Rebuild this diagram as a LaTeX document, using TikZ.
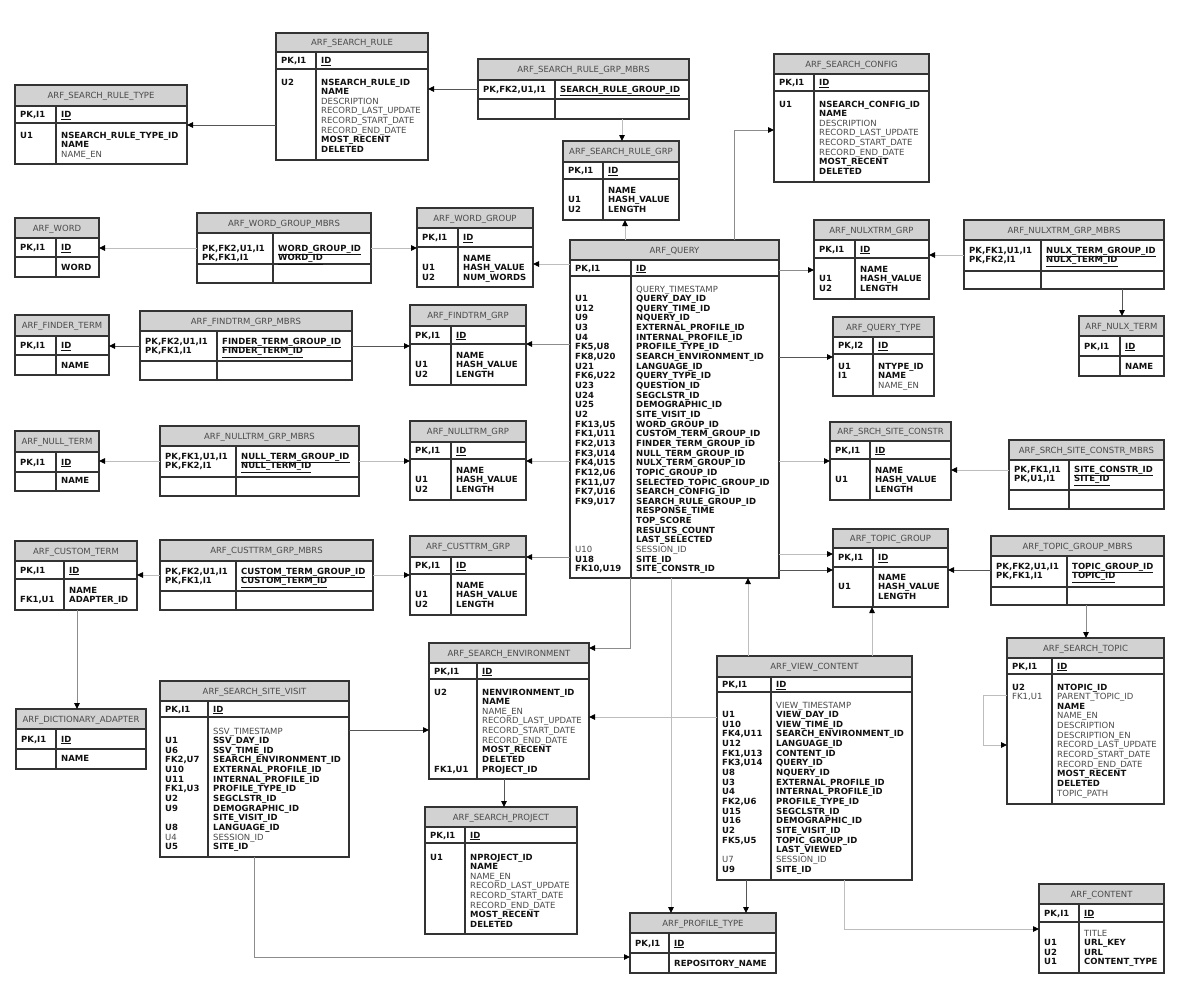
\documentclass[tikz,border=0pt]{standalone}
\usepackage{fontspec}
\setmainfont{DejaVu Sans}
\usetikzlibrary{arrows.meta}
\definecolor{tabc}{HTML}{333333}
\definecolor{headc}{HTML}{D2D2D2}
\definecolor{regc}{HTML}{4A4A4A}
\definecolor{boldc}{HTML}{111111}
\definecolor{darkline}{HTML}{555555}
\definecolor{midline}{HTML}{8C8C8C}
\definecolor{lightline}{HTML}{BDBDBD}
\newcommand\ft{\fontsize{8.5}{9.65}\selectfont}
\newcommand\Fb[1]{{\bfseries\color{boldc}#1}}
\newcommand\Fr[1]{{\color{regc}#1}}
\newcommand\Fu[1]{{\bfseries\color{boldc}\underline{#1}}}
\newcommand\Ee{}
\tikzset{
  tabbox/.style={draw=tabc, line width=1.1pt, inner sep=0pt, outer sep=0pt, rectangle},
  tabline/.style={draw=tabc, line width=1.1pt},
  pkline/.style={draw=tabc, line width=1.6pt},
  headtext/.style={font=\ft, text=regc, inner sep=0pt},
  celltext/.style={font=\ft, inner sep=0pt},
  conn/.style={line width=0.9pt, -{Triangle[length=6pt,width=5.5pt,color=black]}},
  darkconn/.style={conn, draw=darkline},
  midconn/.style={conn, draw=midline},
  lightconn/.style={conn, draw=lightline}
}
% #1 name #2 x1 #3 y1 #4 x2 #5 y2 #6 header bottom #7 divider x #8 title
\newcommand{\ertab}[8]{%
  \fill[headc] (#2,#3) rectangle (#4,#6);
  \node[tabbox, anchor=north west, minimum width={(#4-#2)*1pt}, minimum height={(#5-#3)*1pt}] (#1) at (#2,#3) {};
  \draw[tabline] (#2,#6) -- (#4,#6);
  \draw[tabline] (#7,#6) -- (#7,#5);
  \node[headtext, anchor=base] (#1-title) at ({(#2+#4)/2},{(#3+#6)/2+3}) {#8};
}
% members table: #7 mid line y, #8 divider, #9 title
\newcommand{\mbrs}[9]{%
  \ertab{#1}{#2}{#3}{#4}{#5}{#6}{#8}{#9}%
  \draw[tabline] (#2,#7) -- (#4,#7);
}
% #1 name #2 x1 #3 x2 #4 div #5 hb #6 pb #7 key
\newcommand{\pkrow}[7]{%
  \draw[pkline] (#2,#6) -- (#3,#6);
  \node[celltext, anchor=base west] (#1-pk) at ({#2+5},{(#5+#6)/2+3}) {\Fb{#7}};
  \node[celltext, anchor=base west] (#1-id) at ({#4+5},{(#5+#6)/2+3}) {\Fu{ID}};
}
% #1 prefix #2 x #3 first baseline #4 list
\newcommand{\col}[4]{%
  \foreach \cellx [count=\i] in {#4} {
    \node[celltext, anchor=base west] (#1-\i) at (#2,{#3+(\i-1)*9.65}) {\cellx};
  }
}
\begin{document}
\begin{tikzpicture}[x=1pt,y=-1pt]
\fill[white] (0,0) rectangle (1202,1004);
\useasboundingbox (0,0) rectangle (1202,1004);

% ---------- tables ----------
\ertab{srt}{15}{85}{187}{164}{106}{56}{ARF\_SEARCH\_RULE\_TYPE}
\pkrow{srt}{15}{187}{56}{106}{123}{PK,I1}
\col{srtk}{20}{138}{\Fb{U1}}
\col{srtf}{61}{138}{\Fb{NSEARCH\_RULE\_TYPE\_ID},\Fb{NAME},\Fr{NAME\_EN}}

\ertab{sr}{276}{33}{428}{160}{52}{316}{ARF\_SEARCH\_RULE}
\pkrow{sr}{276}{428}{316}{52}{69}{PK,I1}
\col{srk}{281}{85}{\Fb{U2}}
\col{srf}{321}{85}{\Fb{NSEARCH\_RULE\_ID},\Fb{NAME},\Fr{DESCRIPTION},\Fr{RECORD\_LAST\_UPDATE},\Fr{RECORD\_START\_DATE},\Fr{RECORD\_END\_DATE},\Fb{MOST\_RECENT},\Fb{DELETED}}

\mbrs{srgm}{478}{59}{689}{119}{80}{99}{555}{ARF\_SEARCH\_RULE\_GRP\_MBRS}
\col{srgmk}{483}{92}{\Fb{PK,FK2,U1,I1}}
\col{srgmf}{560}{92}{\Fu{SEARCH\_RULE\_GROUP\_ID}}

\ertab{srg}{563}{141}{679}{220}{162}{603}{ARF\_SEARCH\_RULE\_GRP}
\pkrow{srg}{563}{679}{603}{162}{179}{PK,I1}
\col{srgk}{568}{193}{\Ee,\Fb{U1},\Fb{U2}}
\col{srgf}{608}{193}{\Fb{NAME},\Fb{HASH\_VALUE},\Fb{LENGTH}}

\ertab{sc}{774}{54}{929}{182}{74}{814}{ARF\_SEARCH\_CONFIG}
\pkrow{sc}{774}{929}{814}{74}{91}{PK,I1}
\col{sck}{779}{107}{\Fb{U1}}
\col{scf}{819}{107}{\Fb{NSEARCH\_CONFIG\_ID},\Fb{NAME},\Fr{DESCRIPTION},\Fr{RECORD\_LAST\_UPDATE},\Fr{RECORD\_START\_DATE},\Fr{RECORD\_END\_DATE},\Fb{MOST\_RECENT},\Fb{DELETED}}

\ertab{word}{15}{218}{99}{277}{238}{56}{ARF\_WORD}
\pkrow{word}{15}{99}{56}{238}{257}{PK,I1}
\col{wordf}{61}{270}{\Fb{WORD}}

\mbrs{wgm}{197}{213}{371}{283}{233}{264}{273}{ARF\_WORD\_GROUP\_MBRS}
\col{wgmk}{202}{251}{\Fb{PK,FK2,U1,I1},\Fb{PK,FK1,I1}}
\col{wgmf}{278}{251}{\Fu{WORD\_GROUP\_ID},\Fu{WORD\_ID}}

\ertab{wg}{417}{208}{533}{287}{228}{458}{ARF\_WORD\_GROUP}
\pkrow{wg}{417}{533}{458}{228}{247}{PK,I1}
\col{wgk}{422}{261}{\Ee,\Fb{U1},\Fb{U2}}
\col{wgf}{463}{261}{\Fb{NAME},\Fb{HASH\_VALUE},\Fb{NUM\_WORDS}}

\ertab{query}{570}{240}{779}{578}{260}{631}{ARF\_QUERY}
\pkrow{query}{570}{779}{631}{260}{276}{PK,I1}
\col{queryk}{575}{292}{\Ee,\Fb{U1},\Fb{U12},\Fb{U9},\Fb{U3},\Fb{U4},\Fb{FK5,U8},\Fb{FK8,U20},\Fb{U21},\Fb{FK6,U22},\Fb{U23},\Fb{U24},\Fb{U25},\Fb{U2},\Fb{FK13,U5},\Fb{FK1,U11},\Fb{FK2,U13},\Fb{FK3,U14},\Fb{FK4,U15},\Fb{FK12,U6},\Fb{FK11,U7},\Fb{FK7,U16},\Fb{FK9,U17},\Ee,\Ee,\Ee,\Ee,\Fr{U10},\Fb{U18},\Fb{FK10,U19}}
\col{queryf}{636}{292}{\Fr{QUERY\_TIMESTAMP},\Fb{QUERY\_DAY\_ID},\Fb{QUERY\_TIME\_ID},\Fb{NQUERY\_ID},\Fb{EXTERNAL\_PROFILE\_ID},\Fb{INTERNAL\_PROFILE\_ID},\Fb{PROFILE\_TYPE\_ID},\Fb{SEARCH\_ENVIRONMENT\_ID},\Fb{LANGUAGE\_ID},\Fb{QUERY\_TYPE\_ID},\Fb{QUESTION\_ID},\Fb{SEGCLSTR\_ID},\Fb{DEMOGRAPHIC\_ID},\Fb{SITE\_VISIT\_ID},\Fb{WORD\_GROUP\_ID},\Fb{CUSTOM\_TERM\_GROUP\_ID},\Fb{FINDER\_TERM\_GROUP\_ID},\Fb{NULL\_TERM\_GROUP\_ID},\Fb{NULX\_TERM\_GROUP\_ID},\Fb{TOPIC\_GROUP\_ID},\Fb{SELECTED\_TOPIC\_GROUP\_ID},\Fb{SEARCH\_CONFIG\_ID},\Fb{SEARCH\_RULE\_GROUP\_ID},\Fb{RESPONSE\_TIME},\Fb{TOP\_SCORE},\Fb{RESULTS\_COUNT},\Fb{LAST\_SELECTED},\Fr{SESSION\_ID},\Fb{SITE\_ID},\Fb{SITE\_CONSTR\_ID}}

\ertab{nxg}{814}{220}{929}{299}{240}{855}{ARF\_NULXTRM\_GRP}
\pkrow{nxg}{814}{929}{855}{240}{258}{PK,I1}
\col{nxgk}{819}{272}{\Ee,\Fb{U1},\Fb{U2}}
\col{nxgf}{860}{272}{\Fb{NAME},\Fb{HASH\_VALUE},\Fb{LENGTH}}

\mbrs{nxgm}{964}{220}{1164}{289}{240}{271}{1041}{ARF\_NULXTRM\_GRP\_MBRS}
\col{nxgmk}{969}{253}{\Fb{PK,FK1,U1,I1},\Fb{PK,FK2,I1}}
\col{nxgmf}{1046}{253}{\Fu{NULX\_TERM\_GROUP\_ID},\Fu{NULX\_TERM\_ID}}

\ertab{nxt}{1079}{316}{1164}{376}{336}{1120}{ARF\_NULX\_TERM}
\pkrow{nxt}{1079}{1164}{1120}{336}{356}{PK,I1}
\col{nxtf}{1125}{369}{\Fb{NAME}}

\ertab{qt}{833}{317}{934}{396}{337}{873}{ARF\_QUERY\_TYPE}
\pkrow{qt}{833}{934}{873}{337}{354}{PK,I2}
\col{qtk}{838}{369}{\Fb{U1},\Fb{I1}}
\col{qtf}{878}{369}{\Fb{NTYPE\_ID},\Fb{NAME},\Fr{NAME\_EN}}

\ertab{ssc}{830}{422}{951}{500}{441}{870}{ARF\_SRCH\_SITE\_CONSTR}
\pkrow{ssc}{830}{951}{870}{441}{459}{PK,I1}
\col{ssck}{835}{473}{\Ee,\Fb{U1}}
\col{sscf}{875}{473}{\Fb{NAME},\Fb{HASH\_VALUE},\Fb{LENGTH}}

\mbrs{sscm}{1009}{440}{1164}{509}{460}{490}{1069}{ARF\_SRCH\_SITE\_CONSTR\_MBRS}
\col{sscmk}{1014}{472}{\Fb{PK,FK1,I1},\Fb{PK,U1,I1}}
\col{sscmf}{1074}{472}{\Fu{SITE\_CONSTR\_ID},\Fu{SITE\_ID}}

\ertab{tg}{833}{529}{948}{607}{548}{873}{ARF\_TOPIC\_GROUP}
\pkrow{tg}{833}{948}{873}{548}{567}{PK,I1}
\col{tgk}{838}{580}{\Ee,\Fb{U1}}
\col{tgf}{878}{580}{\Fb{NAME},\Fb{HASH\_VALUE},\Fb{LENGTH}}

\mbrs{tgm}{991}{536}{1164}{605}{556}{587}{1067}{ARF\_TOPIC\_GROUP\_MBRS}
\col{tgmk}{996}{569}{\Fb{PK,FK2,U1,I1},\Fb{PK,FK1,I1}}
\col{tgmf}{1072}{569}{\Fu{TOPIC\_GROUP\_ID},\Fu{TOPIC\_ID}}

\ertab{ft}{15}{315}{109}{375}{336}{56}{ARF\_FINDER\_TERM}
\pkrow{ft}{15}{109}{56}{336}{355}{PK,I1}
\col{ftf}{61}{368}{\Fb{NAME}}

\mbrs{ftgm}{140}{311}{352}{380}{331}{361}{217}{ARF\_FINDTRM\_GRP\_MBRS}
\col{ftgmk}{145}{344}{\Fb{PK,FK2,U1,I1},\Fb{PK,FK1,I1}}
\col{ftgmf}{222}{344}{\Fu{FINDER\_TERM\_GROUP\_ID},\Fu{FINDER\_TERM\_ID}}

\ertab{ftg}{410}{305}{526}{385}{326}{451}{ARF\_FINDTRM\_GRP}
\pkrow{ftg}{410}{526}{451}{326}{344}{PK,I1}
\col{ftgk}{415}{358}{\Ee,\Fb{U1},\Fb{U2}}
\col{ftgf}{456}{358}{\Fb{NAME},\Fb{HASH\_VALUE},\Fb{LENGTH}}

\ertab{nt}{15}{431}{99}{491}{452}{56}{ARF\_NULL\_TERM}
\pkrow{nt}{15}{99}{56}{452}{472}{PK,I1}
\col{ntf}{61}{483}{\Fb{NAME}}

\mbrs{ntgm}{160}{426}{359}{496}{446}{477}{236}{ARF\_NULLTRM\_GRP\_MBRS}
\col{ntgmk}{165}{459}{\Fb{PK,FK1,U1,I1},\Fb{PK,FK2,I1}}
\col{ntgmf}{241}{459}{\Fu{NULL\_TERM\_GROUP\_ID},\Fu{NULL\_TERM\_ID}}

\ertab{ntg}{410}{421}{526}{500}{442}{451}{ARF\_NULLTRM\_GRP}
\pkrow{ntg}{410}{526}{451}{442}{459}{PK,I1}
\col{ntgk}{415}{473}{\Ee,\Fb{U1},\Fb{U2}}
\col{ntgf}{456}{473}{\Fb{NAME},\Fb{HASH\_VALUE},\Fb{LENGTH}}

\ertab{ct}{15}{541}{137}{610}{561}{64}{ARF\_CUSTOM\_TERM}
\pkrow{ct}{15}{137}{64}{561}{579}{PK,I1}
\col{ctk}{20}{593}{\Ee,\Fb{FK1,U1}}
\col{ctf}{69}{593}{\Fb{NAME},\Fb{ADAPTER\_ID}}

\mbrs{ctgm}{160}{540}{373}{610}{561}{591}{236}{ARF\_CUSTTRM\_GRP\_MBRS}
\col{ctgmk}{165}{574}{\Fb{PK,FK2,U1,I1},\Fb{PK,FK1,I1}}
\col{ctgmf}{241}{574}{\Fu{CUSTOM\_TERM\_GROUP\_ID},\Fu{CUSTOM\_TERM\_ID}}

\ertab{ctg}{410}{536}{526}{615}{557}{451}{ARF\_CUSTTRM\_GRP}
\pkrow{ctg}{410}{526}{451}{557}{574}{PK,I1}
\col{ctgk}{415}{588}{\Ee,\Fb{U1},\Fb{U2}}
\col{ctgf}{456}{588}{\Fb{NAME},\Fb{HASH\_VALUE},\Fb{LENGTH}}

\ertab{da}{16}{709}{146}{769}{729}{56}{ARF\_DICTIONARY\_ADAPTER}
\pkrow{da}{16}{146}{56}{729}{749}{PK,I1}
\col{daf}{61}{761}{\Fb{NAME}}

\ertab{ssv}{160}{681}{349}{857}{701}{208}{ARF\_SEARCH\_SITE\_VISIT}
\pkrow{ssv}{160}{349}{208}{701}{717}{PK,I1}
\col{ssvk}{165}{734}{\Ee,\Fb{U1},\Fb{U6},\Fb{FK2,U7},\Fb{U10},\Fb{U11},\Fb{FK1,U3},\Fb{U2},\Fb{U9},\Ee,\Fb{U8},\Fr{U4},\Fb{U5}}
\col{ssvf}{213}{734}{\Fr{SSV\_TIMESTAMP},\Fb{SSV\_DAY\_ID},\Fb{SSV\_TIME\_ID},\Fb{SEARCH\_ENVIRONMENT\_ID},\Fb{EXTERNAL\_PROFILE\_ID},\Fb{INTERNAL\_PROFILE\_ID},\Fb{PROFILE\_TYPE\_ID},\Fb{SEGCLSTR\_ID},\Fb{DEMOGRAPHIC\_ID},\Fb{SITE\_VISIT\_ID},\Fb{LANGUAGE\_ID},\Fr{SESSION\_ID},\Fb{SITE\_ID}}

\ertab{se}{429}{643}{589}{779}{663}{477}{ARF\_SEARCH\_ENVIRONMENT}
\pkrow{se}{429}{589}{477}{663}{679}{PK,I1}
\col{sek}{434}{695}{\Fb{U2},\Ee,\Ee,\Ee,\Ee,\Ee,\Ee,\Ee,\Fb{FK1,U1}}
\col{sef}{482}{695}{\Fb{NENVIRONMENT\_ID},\Fb{NAME},\Fr{NAME\_EN},\Fr{RECORD\_LAST\_UPDATE},\Fr{RECORD\_START\_DATE},\Fr{RECORD\_END\_DATE},\Fb{MOST\_RECENT},\Fb{DELETED},\Fb{PROJECT\_ID}}

\ertab{sp}{425}{807}{577}{934}{827}{465}{ARF\_SEARCH\_PROJECT}
\pkrow{sp}{425}{577}{465}{827}{843}{PK,I1}
\col{spk}{430}{860}{\Fb{U1}}
\col{spf}{470}{860}{\Fb{NPROJECT\_ID},\Fb{NAME},\Fr{NAME\_EN},\Fr{RECORD\_LAST\_UPDATE},\Fr{RECORD\_START\_DATE},\Fr{RECORD\_END\_DATE},\Fb{MOST\_RECENT},\Fb{DELETED}}

\ertab{pt}{630}{913}{776}{973}{933}{669}{ARF\_PROFILE\_TYPE}
\pkrow{pt}{630}{776}{669}{933}{953}{PK,I1}
\col{ptf}{674}{966}{\Fb{REPOSITORY\_NAME}}

\ertab{vc}{717}{656}{912}{880}{677}{771}{ARF\_VIEW\_CONTENT}
\pkrow{vc}{717}{912}{771}{677}{692}{PK,I1}
\col{vck}{722}{708}{\Ee,\Fb{U1},\Fb{U10},\Fb{FK4,U11},\Fb{U12},\Fb{FK1,U13},\Fb{FK3,U14},\Fb{U8},\Fb{U3},\Fb{U4},\Fb{FK2,U6},\Fb{U15},\Fb{U16},\Fb{U2},\Fb{FK5,U5},\Ee,\Fr{U7},\Fb{U9}}
\col{vcf}{776}{708}{\Fr{VIEW\_TIMESTAMP},\Fb{VIEW\_DAY\_ID},\Fb{VIEW\_TIME\_ID},\Fb{SEARCH\_ENVIRONMENT\_ID},\Fb{LANGUAGE\_ID},\Fb{CONTENT\_ID},\Fb{QUERY\_ID},\Fb{NQUERY\_ID},\Fb{EXTERNAL\_PROFILE\_ID},\Fb{INTERNAL\_PROFILE\_ID},\Fb{PROFILE\_TYPE\_ID},\Fb{SEGCLSTR\_ID},\Fb{DEMOGRAPHIC\_ID},\Fb{SITE\_VISIT\_ID},\Fb{TOPIC\_GROUP\_ID},\Fb{LAST\_VIEWED},\Fr{SESSION\_ID},\Fb{SITE\_ID}}

\ertab{st}{1007}{638}{1164}{804}{658}{1052}{ARF\_SEARCH\_TOPIC}
\pkrow{st}{1007}{1164}{1052}{658}{674}{PK,I1}
\col{stk}{1012}{690}{\Fb{U2},\Fr{FK1,U1}}
\col{stf}{1057}{690}{\Fb{NTOPIC\_ID},\Fr{PARENT\_TOPIC\_ID},\Fb{NAME},\Fr{NAME\_EN},\Fr{DESCRIPTION},\Fr{DESCRIPTION\_EN},\Fr{RECORD\_LAST\_UPDATE},\Fr{RECORD\_START\_DATE},\Fr{RECORD\_END\_DATE},\Fb{MOST\_RECENT},\Fb{DELETED},\Fr{TOPIC\_PATH}}

\ertab{content}{1039}{884}{1164}{973}{904}{1079}{ARF\_CONTENT}
\pkrow{content}{1039}{1164}{1079}{904}{922}{PK,I1}
\col{contentk}{1044}{936}{\Ee,\Fb{U1},\Fb{U2},\Fb{U1}}
\col{contentf}{1084}{936}{\Fr{TITLE},\Fb{URL\_KEY},\Fb{URL},\Fb{CONTENT\_TYPE}}

% ---------- connectors ----------
\draw[darkconn] (srgm.west |- 0,89) -- (sr.east |- 0,89);
\draw[lightconn] (srgm.south -| 622,0) -- (srg.north -| 622,0);
\draw[darkconn] (sr.west |- 0,125) -- (srt.east |- 0,125);
\draw[lightconn] (wgm.west |- 0,248) -- (word.east |- 0,248);
\draw[lightconn] (wgm.east |- 0,248) -- (wg.west |- 0,248);
\draw[lightconn] (query.north -| 625,0) -- (srg.south -| 625,0);
\draw[midconn] (query.north -| 734,0) |- (sc.west |- 0,130);
\draw[lightconn] (query.west |- 0,264) -- (wg.east |- 0,264);
\draw[midconn] (query.east |- 0,270) -- (nxg.west |- 0,270);
\draw[lightconn] (nxgm.west |- 0,255) -- (nxg.east |- 0,255);
\draw[darkconn] (nxgm.south -| 1122,0) -- (nxt.north -| 1122,0);
\draw[darkconn] (query.east |- 0,357) -- (qt.west |- 0,357);
\draw[darkconn] (ftgm.west |- 0,346) -- (ft.east |- 0,346);
\draw[darkconn] (ftgm.east |- 0,346) -- (ftg.west |- 0,346);
\draw[midconn] (query.west |- 0,344) -- (ftg.east |- 0,344);
\draw[lightconn] (ntgm.west |- 0,461) -- (nt.east |- 0,461);
\draw[lightconn] (ntgm.east |- 0,461) -- (ntg.west |- 0,461);
\draw[lightconn] (query.west |- 0,461) -- (ntg.east |- 0,461);
\draw[lightconn] (ctgm.west |- 0,575) -- (ct.east |- 0,575);
\draw[lightconn] (ctgm.east |- 0,575) -- (ctg.west |- 0,575);
\draw[midconn] (query.west |- 0,557) -- (ctg.east |- 0,557);
\draw[lightconn] (query.east |- 0,461) -- (ssc.west |- 0,461);
\draw[lightconn] (sscm.west |- 0,470) -- (ssc.east |- 0,470);
\draw[lightconn] (query.east |- 0,554) -- (tg.west |- 0,554);
\draw[darkconn] (query.east |- 0,570) -- (tg.west |- 0,570);
\draw[darkconn] (tgm.west |- 0,570) -- (tg.east |- 0,570);
\draw[midconn] (tgm.south -| 1086,0) -- (st.north -| 1086,0);
\draw[midconn] (ct.south -| 77,0) -- (da.north -| 77,0);
\draw[darkconn] (ssv.east |- 0,730) -- (se.west |- 0,730);
\draw[midconn] (ssv.south -| 254,0) |- (pt.west |- 0,957);
\draw[midconn] (query.south -| 630,0) |- (se.east |- 0,648);
\draw[lightconn] (vc.west |- 0,717) -- (se.east |- 0,717);
\draw[darkconn] (se.south -| 504,0) -- (sp.north -| 504,0);
\draw[lightconn] (query.south -| 671,0) -- (pt.north -| 671,0);
\draw[lightconn] (vc.north -| 748,0) -- (query.south -| 748,0);
\draw[lightconn] (vc.north -| 872,0) -- (tg.south -| 872,0);
\draw[darkconn] (vc.south -| 746,0) -- (pt.north -| 746,0);
\draw[lightconn] (vc.south -| 844,0) |- (content.west |- 0,929);
\draw[lightconn] (st.west |- 0,695) -- (983,695) -- (983,745) -- (st.west |- 0,745);
\end{tikzpicture}
\end{document}
